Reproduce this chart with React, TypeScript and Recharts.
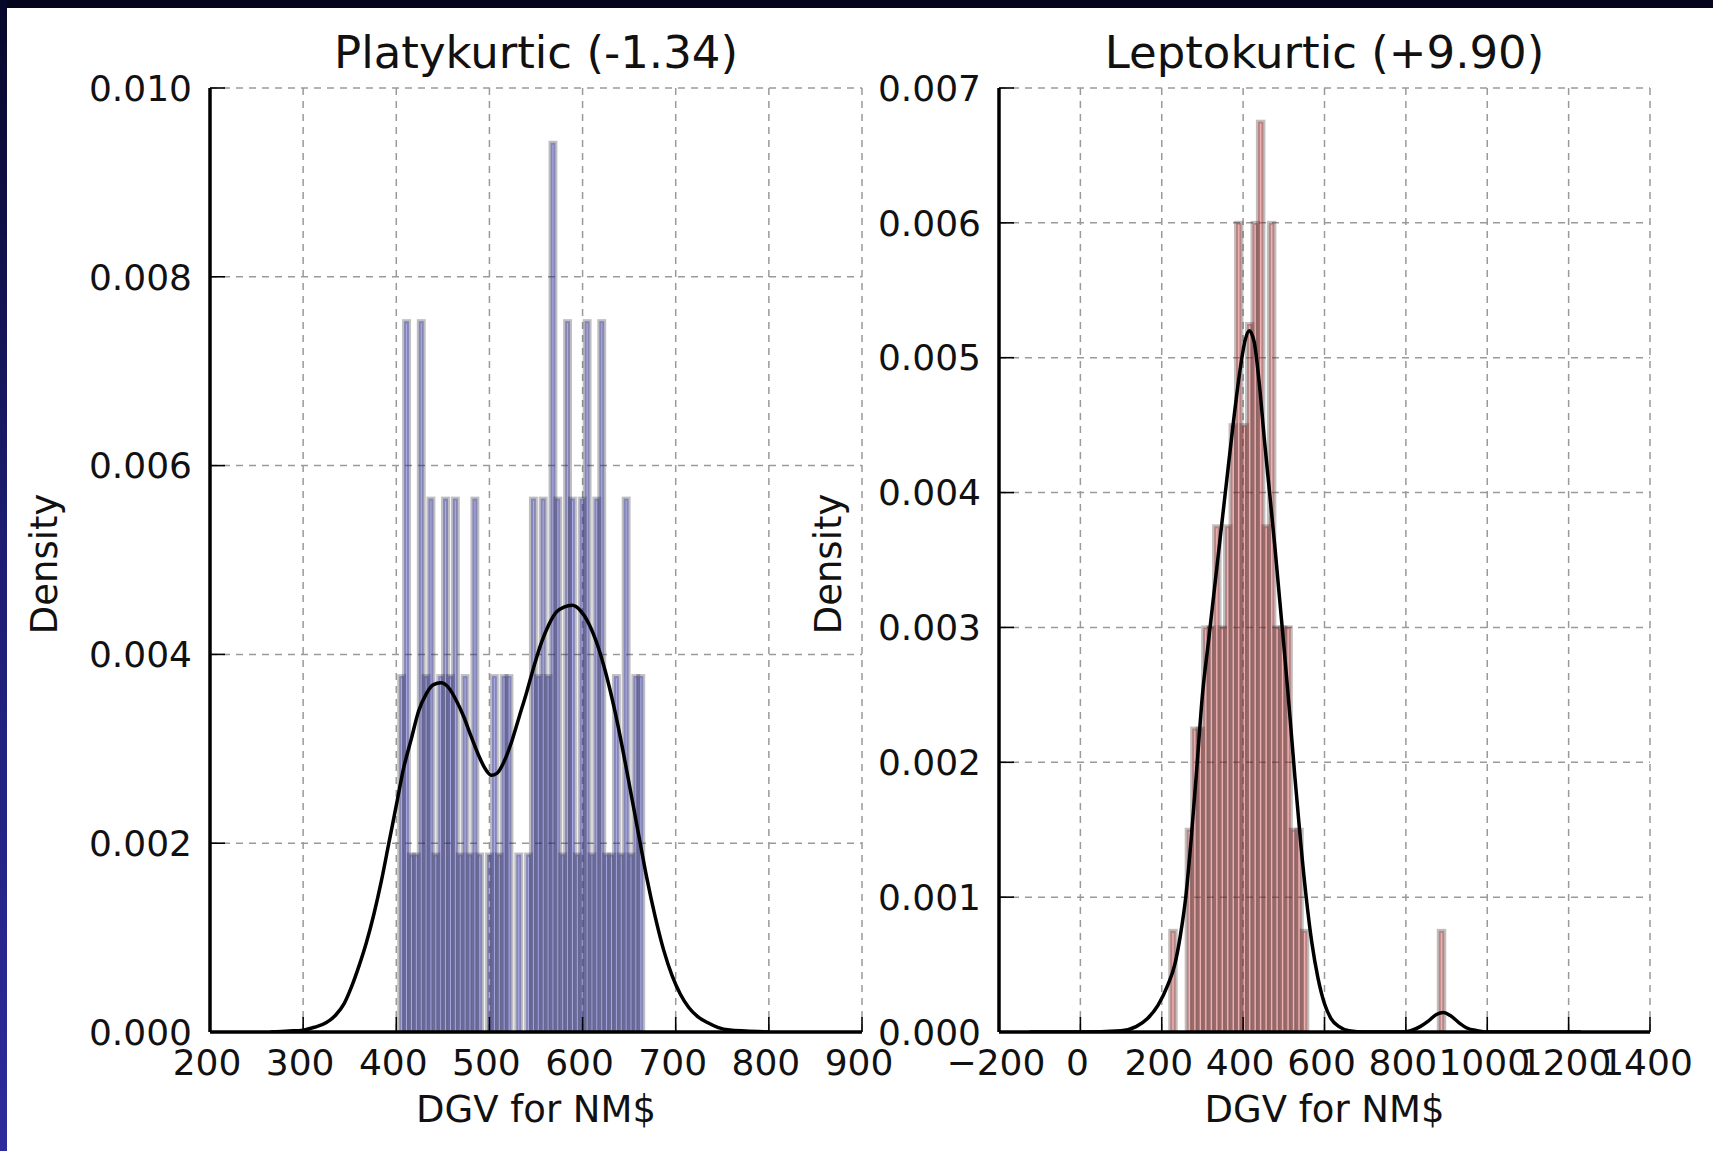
import React from 'react';
import { ComposedChart, Bar, Line, XAxis, YAxis, CartesianGrid } from 'recharts';

// ---------- Platykurtic panel ----------
const platyBinX = [
  405.8, 411.0, 416.3, 421.5, 426.8, 432.0, 437.2, 442.5, 447.7, 452.9,
  458.2, 463.4, 468.7, 473.9, 479.1, 484.4, 489.6, 494.8, 500.1, 505.3,
  510.6, 515.8, 521.0, 526.3, 531.5, 536.8, 542.0, 547.2, 552.5, 557.7,
  563.0, 568.2, 573.4, 578.7, 583.9, 589.1, 594.4, 599.6, 604.9, 610.1,
  615.3, 620.6, 625.8, 631.1, 636.3, 641.5, 646.8, 652.0, 657.2, 662.5,
];
const platyDensity = [
  0.00377, 0.00753, 0.00188, 0.00188, 0.00753, 0.00377, 0.00565, 0.00188, 0.00377, 0.00565,
  0.00377, 0.00565, 0.00188, 0.00377, 0.00188, 0.00565, 0.00188, 0, 0.00188, 0.00377,
  0.00188, 0.00377, 0.00377, 0, 0.00188, 0, 0.00188, 0.00565, 0.00377, 0.00565,
  0.00377, 0.00942, 0.00565, 0.00188, 0.00753, 0.00565, 0.00188, 0.00565, 0.00753, 0.00188,
  0.00565, 0.00753, 0.00188, 0.00188, 0.00377, 0.00188, 0.00565, 0.00188, 0.00377, 0.00377,
];
const platyKdeX = [
  265, 285, 300, 312, 325, 335, 344, 352, 360, 368, 376, 384, 392, 400, 408, 416, 424, 432,
  440, 448, 456, 464, 472, 480, 488, 496, 502, 508, 516, 524, 532, 540, 548, 556, 564, 572,
  580, 589, 598, 607, 616, 625, 634, 643, 651, 660, 669, 678, 687, 696, 705, 714, 724, 734,
  745, 758, 775, 800,
];
const platyKdeY = [
  0, 0.00001, 0.00002, 0.00005, 0.0001, 0.00018, 0.0003, 0.00048, 0.0007, 0.00095, 0.00125,
  0.0016, 0.002, 0.0024, 0.0028, 0.0031, 0.0034, 0.00358, 0.00368, 0.0037, 0.00365, 0.00352,
  0.00335, 0.00314, 0.00294, 0.00278, 0.00272, 0.00274, 0.00287, 0.00308, 0.00334, 0.0036,
  0.00388, 0.00413, 0.00432, 0.00445, 0.0045, 0.00452, 0.00446, 0.00432, 0.0041, 0.0038,
  0.00343, 0.003, 0.00258, 0.0021, 0.00163, 0.00122, 0.00087, 0.0006, 0.0004, 0.00026,
  0.00016, 0.0001, 0.00005, 0.00002, 0.00001, 0,
];
const platyXTicks = [200, 300, 400, 500, 600, 700, 800, 900];
const platyYTicks = [0, 0.002, 0.004, 0.006, 0.008, 0.01];

// ---------- Leptokurtic panel ----------
const leptoBinX = [
  227.6, 268.0, 281.5, 294.9, 308.4, 321.9, 335.4, 348.8, 362.3, 375.8, 389.2, 402.7,
  416.2, 429.7, 443.1, 456.6, 470.1, 483.5, 497.0, 510.5, 523.9, 537.4, 550.9, 887.6,
];
const leptoDensity = [
  0.00075, 0.0015, 0.00225, 0.00225, 0.003, 0.003, 0.00375, 0.003, 0.00375, 0.0045, 0.006, 0.0045,
  0.00525, 0.006, 0.00675, 0.00375, 0.006, 0.003, 0.003, 0.003, 0.0015, 0.0015, 0.00075, 0.00075,
];
const leptoKdeX = [
  -125, 0, 100, 137, 165, 191, 215, 232, 246, 259, 272, 286, 300, 315, 330, 345, 360, 376,
  392, 405, 415, 427, 440, 452, 465, 478, 490, 502, 514, 527, 541, 555, 569, 584, 600, 616,
  636, 660, 700, 790, 812, 835, 855, 875, 892, 910, 930, 950, 975, 1000, 1230,
];
const leptoKdeY = [
  0, 0, 0.00001, 0.00004, 0.0001, 0.0002, 0.00035, 0.0005, 0.00072, 0.001, 0.00142, 0.00195,
  0.0025, 0.0029, 0.0033, 0.0037, 0.0041, 0.00452, 0.0049, 0.00513, 0.0052, 0.00512, 0.0048,
  0.0044, 0.004, 0.0036, 0.0032, 0.0028, 0.00238, 0.0019, 0.00142, 0.001, 0.00066, 0.0004,
  0.00021, 0.0001, 0.00004, 0.00001, 0, 0, 0.00001, 0.00004, 0.00008, 0.00013, 0.000145,
  0.00012, 0.00007, 0.00003, 0.00001, 0, 0,
];
const leptoXTicks = [-200, 0, 200, 400, 600, 800, 1000, 1200, 1400];
const leptoYTicks = [0, 0.001, 0.002, 0.003, 0.004, 0.005, 0.006, 0.007];

const titles = ['Platykurtic (-1.34)', 'Leptokurtic (+9.90)'];
const xLabel = 'DGV for NM$';
const yLabel = 'Density';

const FONT = "'DejaVu Sans', 'Bitstream Vera Sans', sans-serif";
const H = 1151;
const PLOT_TOP = 88;
const PLOT_BOTTOM = 1032;
const X_AXIS_H = 60;
const Y_AXIS_W = 120;

type PanelProps = {
  left: number;
  width: number;
  plotLeft: number;
  plotRight: number;
  binX: number[];
  density: number[];
  kdeX: number[];
  kdeY: number[];
  xDomain: [number, number];
  xTicks: number[];
  yDomain: [number, number];
  yTicks: number[];
  binPx: number;
  face: string;
  edge: string;
};

const fmtX = (v: number) => (v < 0 ? '\u2212' + Math.abs(v) : String(v));
const fmtY = (v: number) => v.toFixed(3);

// histogram bar: face + edge drawn like a matplotlib patch, centred on the bin
const makeBarShape = (binPx: number, face: string, edge: string) => (props: any) => {
  const { x, y, width, height } = props;
  if (!height || height <= 0 || x == null) return <g />;
  const cx = x + width / 2;
  return (
    <rect
      x={cx - binPx / 2}
      y={y}
      width={binPx}
      height={height}
      fill={face}
      fillOpacity={0.4}
      stroke={edge}
      strokeOpacity={0.28}
      strokeWidth={4}
    />
  );
};

function Panel(p: PanelProps) {
  const bins = p.binX.map((x, i) => ({ x, density: p.density[i] }));
  const kde = p.kdeX.map((x, i) => ({ x, kde: p.kdeY[i] }));
  const margin = {
    top: PLOT_TOP,
    left: p.plotLeft - Y_AXIS_W,
    right: p.width - p.plotRight,
    bottom: H - PLOT_BOTTOM - X_AXIS_H,
  };
  const xTickStyle = { fontSize: 36, fill: '#111', fontFamily: FONT, dx: -3 };
  const yTickStyle = { fontSize: 36, fill: '#111', fontFamily: FONT };
  const tickLine = { stroke: '#000', strokeWidth: 1.6 };
  const axisLine = { stroke: '#000', strokeWidth: 3.5 };
  return (
    <div style={{ position: 'absolute', left: p.left, top: 0, width: p.width, height: H }}>
      <ComposedChart width={p.width} height={H} data={bins} margin={margin}>
        <XAxis
          dataKey="x"
          type="number"
          domain={p.xDomain}
          ticks={p.xTicks}
          interval={0}
          allowDataOverflow
          height={X_AXIS_H}
          tickSize={-15}
          tickMargin={32}
          tick={xTickStyle}
          tickLine={tickLine}
          axisLine={axisLine}
          tickFormatter={fmtX}
        />
        <XAxis
          xAxisId="top"
          orientation="top"
          dataKey="x"
          type="number"
          domain={p.xDomain}
          ticks={p.xTicks}
          interval={0}
          allowDataOverflow
          height={0}
          tickSize={-15}
          tick={false}
          tickLine={tickLine}
          axisLine={axisLine}
        />
        <YAxis
          type="number"
          domain={p.yDomain}
          ticks={p.yTicks}
          interval={0}
          allowDataOverflow
          width={Y_AXIS_W}
          tickSize={-15}
          tickMargin={33}
          tick={yTickStyle}
          tickLine={tickLine}
          axisLine={axisLine}
          tickFormatter={fmtY}
        />
        <YAxis
          yAxisId="right"
          orientation="right"
          type="number"
          domain={p.yDomain}
          ticks={p.yTicks}
          interval={0}
          allowDataOverflow
          width={0}
          tickSize={-15}
          tick={false}
          tickLine={tickLine}
          axisLine={axisLine}
        />
        <Bar
          dataKey="density"
          barSize={3}
          fill={p.face}
          shape={makeBarShape(p.binPx, p.face, p.edge)}
          isAnimationActive={false}
        />
        <Line
          data={kde}
          dataKey="kde"
          type="monotone"
          stroke="#000"
          strokeWidth={3.5}
          dot={false}
          activeDot={false}
          isAnimationActive={false}
        />
        <CartesianGrid stroke="#9a9a9a" strokeWidth={1.5} strokeDasharray="7 6" />
      </ComposedChart>
    </div>
  );
}

export default function App() {
  const lCx = (210 + 862) / 2;
  const rCx = (999 + 1650) / 2;
  const midY = (PLOT_TOP + PLOT_BOTTOM) / 2 + 4;
  return (
    <div
      style={{
        position: 'absolute',
        left: 0,
        top: 0,
        width: 1713,
        height: H,
        background: '#fff',
        overflow: 'hidden',
        fontFamily: FONT,
      }}
    >
      <div style={{ position: 'absolute', left: 0, top: 0, width: 1713, height: 8, background: '#05051e' }} />
      <div
        style={{
          position: 'absolute',
          left: 0,
          top: 0,
          width: 7,
          height: H,
          background: 'linear-gradient(to bottom, #07072a 0%, #1c1c70 45%, #2c2c9c 100%)',
        }}
      />
      <Panel
        left={0}
        width={900}
        plotLeft={210}
        plotRight={862}
        binX={platyBinX}
        density={platyDensity}
        kdeX={platyKdeX}
        kdeY={platyKdeY}
        xDomain={[200, 900]}
        xTicks={platyXTicks}
        yDomain={[0, 0.01]}
        yTicks={platyYTicks}
        binPx={4.88}
        face="rgb(60,60,210)"
        edge="rgb(20,20,40)"
      />
      <Panel
        left={860}
        width={853}
        plotLeft={139}
        plotRight={790}
        binX={leptoBinX}
        density={leptoDensity}
        kdeX={leptoKdeX}
        kdeY={leptoKdeY}
        xDomain={[-200, 1400]}
        xTicks={leptoXTicks}
        yDomain={[0, 0.007]}
        yTicks={leptoYTicks}
        binPx={5.48}
        face="rgb(210,60,60)"
        edge="rgb(40,20,20)"
      />
      <svg
        width={1713}
        height={H}
        style={{ position: 'absolute', left: 0, top: 0, pointerEvents: 'none' }}
      >
        <g fontFamily={FONT} fill="#111">
          <text x={lCx} y={68} fontSize={45} textAnchor="middle">{titles[0]}</text>
          <text x={rCx} y={68} fontSize={45} textAnchor="middle">{titles[1]}</text>
          <text x={lCx} y={1122} fontSize={37} textAnchor="middle">{xLabel}</text>
          <text x={rCx} y={1122} fontSize={37} textAnchor="middle">{xLabel}</text>
          <text x={57} y={midY} fontSize={37} textAnchor="middle" transform={`rotate(-90 57 ${midY})`}>{yLabel}</text>
          <text x={841} y={midY} fontSize={37} textAnchor="middle" transform={`rotate(-90 841 ${midY})`}>{yLabel}</text>
        </g>
      </svg>
    </div>
  );
}
